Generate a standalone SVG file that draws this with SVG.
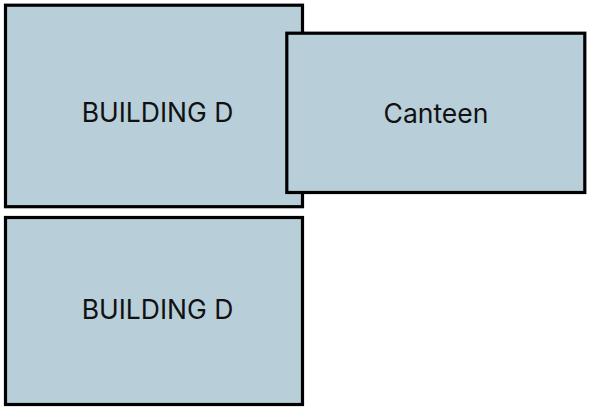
<svg xmlns="http://www.w3.org/2000/svg" width="599" height="417" viewBox="0 0 599 417">
<style>
.b{fill:#b8cfda;stroke:#000;stroke-width:3.2}
.t{font-family:Inter,"Noto Sans",sans-serif;font-size:26.5px;fill:#111;text-anchor:middle}
</style>
<rect width="599" height="417" fill="#fff"/>
<g id="building-d-top"><rect class="b" x="5.5" y="5.2" width="297" height="201.5"/><text class="t" x="157.5" y="122">BUILDING D</text></g>
<g id="building-d-bottom"><rect class="b" x="5.5" y="217.5" width="297" height="187"/><text class="t" x="157.5" y="319">BUILDING D</text></g>
<g id="canteen"><rect class="b" x="286.8" y="33.2" width="298" height="159.3"/><text class="t" x="436" y="123">Canteen</text></g>
<g id="connectors"/>
</svg>
